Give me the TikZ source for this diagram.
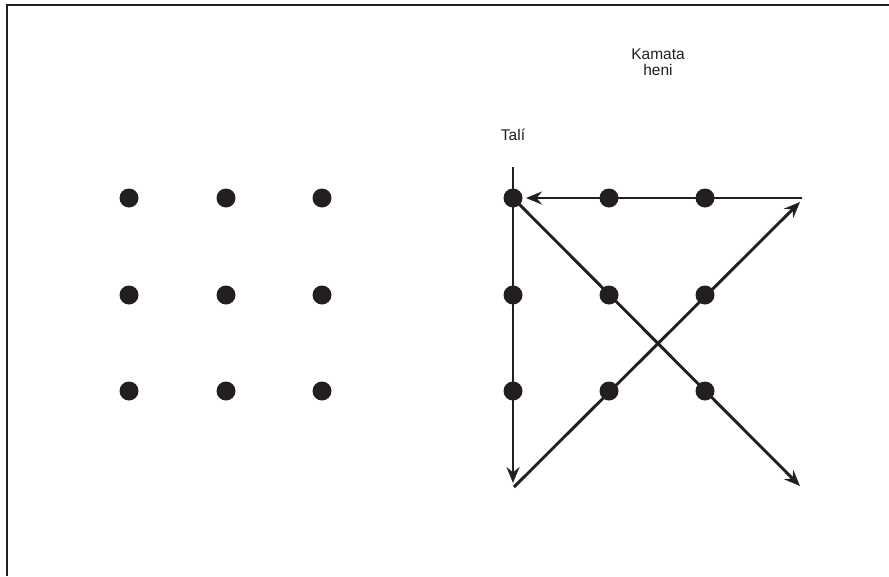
\documentclass[tikz,border=0pt]{standalone}
\usepackage{fontspec}
\setmainfont{Liberation Sans}
\usetikzlibrary{arrows.meta}
\definecolor{ink}{RGB}{35,31,32}
\begin{document}
\begin{tikzpicture}[x=1pt,y=-1pt,
  dot/.style={circle,fill=ink,inner sep=0pt,minimum size=19pt},
  conn/.style={draw=ink,line width=2.9pt},
  arr/.style={conn,-{Stealth[length=16pt,width=13pt,inset=5.5pt]}},
  lbl/.style={font=\fontsize{15.5}{15.5}\selectfont,text=ink,align=center,inner sep=0pt}]
\useasboundingbox (0,0) rectangle (889,576);
\draw[ink,line width=2pt] (7,576) -- (7,5) -- (889,5);
% left grid
\foreach \i/\x in {1/129,2/226,3/322}{
  \foreach \j/\y in {1/198,2/295,3/391}{
    \node[dot] (L\i\j) at (\x,\y) {};
  }
}
% right grid
\foreach \i/\x in {1/513,2/609,3/705}{
  \foreach \j/\y in {1/198,2/295,3/391}{
    \node[dot] (R\i\j) at (\x,\y) {};
  }
}
\coordinate (top) at (513,167);
\coordinate (vend) at (513,483);
\coordinate (corner) at (514,487);
\coordinate (ur) at (800,202);
\coordinate (hstart) at (802,198);
\coordinate (hend) at (526,198);
\coordinate (dr) at (800,486);
\draw[arr] (top) -- (vend);
\draw[arr] (corner) -- (ur);
\draw[arr] (hstart) -- (hend);
\draw[arr] (R11.center) -- (dr);
\node[lbl] (tali) at (513,135) {Talí};
\node[lbl] (kam) at (658,62) {Kamata\\heni};
\end{tikzpicture}
\end{document}
